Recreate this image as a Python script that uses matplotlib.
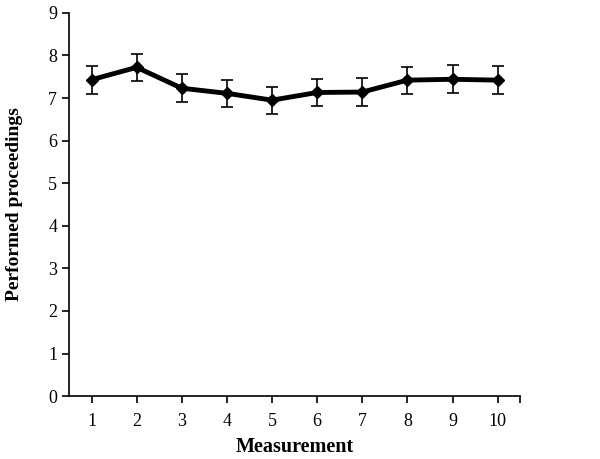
import matplotlib
matplotlib.use('Agg')
import matplotlib.pyplot as plt

plt.rcParams['font.family'] = ['Liberation Serif', 'DejaVu Serif']

measurement = [1, 2, 3, 4, 5, 6, 7, 8, 9, 10]
proceedings = [7.43, 7.72, 7.23, 7.11, 6.95, 7.13, 7.14, 7.42, 7.44, 7.42]
err = [0.33, 0.32, 0.33, 0.32, 0.32, 0.32, 0.33, 0.32, 0.33, 0.33]

fig = plt.figure(figsize=(6, 4.59), dpi=100)
ax = fig.add_axes([0.115, 0.137, 0.752, 0.835])

ax.errorbar(measurement, proceedings, yerr=err, color='black', lw=3.5,
            marker='D', markersize=6.5, ecolor='black', elinewidth=1.2,
            capsize=4, capthick=1.2)

ax.set_xlim(0.5, 10.5)
ax.set_ylim(0, 9)
ax.set_xticks(measurement)
ax.set_xticks([10.5], minor=True)
ax.set_yticks(range(0, 10))
ax.tick_params(axis='both', which='both', direction='out', length=5, width=1.2,
               labelsize=13, color='black')
ax.tick_params(axis='x', pad=7)
for s in ['top', 'right']:
    ax.spines[s].set_visible(False)
for s in ['left', 'bottom']:
    ax.spines[s].set_linewidth(1.2)

ax.set_xlabel('Measurement', fontsize=14.5, fontweight='bold', labelpad=5)
ax.set_ylabel('Performed proceedings', fontsize=14, fontweight='bold', labelpad=18)

plt.savefig('out.png', dpi=100)
